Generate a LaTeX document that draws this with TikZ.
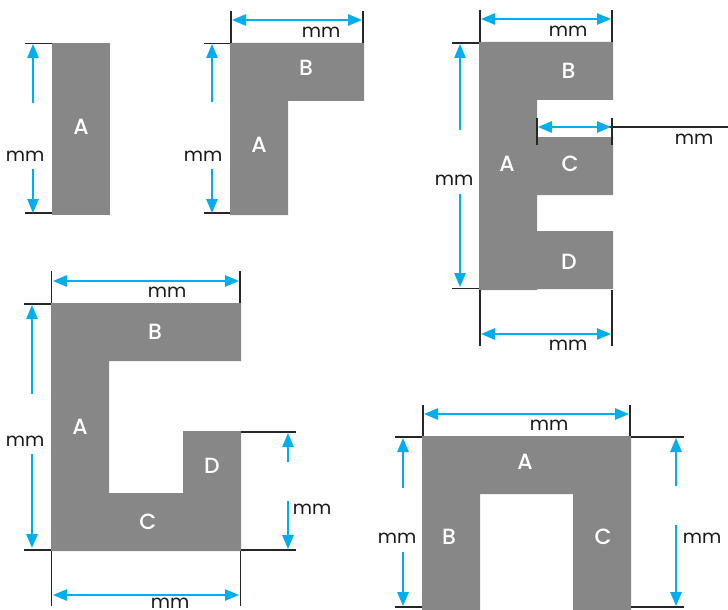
\documentclass[tikz,border=0pt]{standalone}
\usepackage{fontspec}
\setmainfont{Poppins}
\newfontfamily\namefont{Poppins}[UprightFont=* Medium]
\usetikzlibrary{arrows.meta}
\definecolor{partgray}{HTML}{878787}
\definecolor{dimblue}{HTML}{00AEEF}
\tikzset{
  part/.style={fill=partgray,draw=none},
  partname/.style={text=white,font=\namefont\fontsize{16.5pt}{17pt}\selectfont,inner sep=0pt},
  unit/.style={text=black!90,font=\fontsize{14pt}{15pt}\selectfont,inner sep=0pt},
  extline/.style={draw=black!85,line width=0.8pt},
  dimarrow/.style={draw=dimblue,line width=1.2pt,-{Triangle[length=10.5pt,width=8.5pt]}},
  dimboth/.style={draw=dimblue,line width=1.2pt,{Triangle[length=10.5pt,width=8.5pt]}-{Triangle[length=10.5pt,width=8.5pt]}}
}
\begin{document}
\begin{tikzpicture}[x=0.75pt,y=-0.75pt]
  \useasboundingbox (0,0) rectangle (728,610);
  % the five sections
  \fill[part] (52,43) rectangle (110,215);
  \fill[part] (230,43) -- (364,43) -- (364,101) -- (288,101) -- (288,215) -- (230,215) -- cycle;
  \fill[part] (479,42) -- (613,42) -- (613,100) -- (537,100) -- (537,137) -- (613,137) -- (613,195)
    -- (537,195) -- (537,231) -- (613,231) -- (613,289) -- (537,289) -- (537,290) -- (479,290) -- cycle;
  \fill[part] (51,303) -- (241,303) -- (241,361) -- (109,361) -- (109,493) -- (183,493) -- (183,431)
    -- (241,431) -- (241,551) -- (51,551) -- cycle;
  \fill[part] (422,436) -- (631,436) -- (631,610) -- (573,610) -- (573,494) -- (480,494) -- (480,610) -- (422,610) -- cycle;
  % extension lines
  \foreach \ename/\ax/\ay/\bx/\by in {
    ea/25/43.5/52/43.5, eb/25/213/52/213,
    ec/204/43.5/230/43.5, ed/204/213/230/213, ee/231/11/231/43, ef/363/11/363/43,
    eg/452/43/479/43, eh/452/288.5/479/288.5, ei/480/10/480/42, ej/612/10/612/42,
    ek/480/290/480/346, el/612/290/612/346, em/537/118/537/145, en/612/118/612/145, eo/603/127/728/127,
    ep/24/304/51/304, eq/24/550/51/550, er/51.5/271/51.5/303, es/240/271/240/303,
    et/241/432/296/432, eu/241/550/296/550, ev/51.5/551/51.5/606, ew/240.5/551/240.5/606,
    ex/395/437/422/437, ey/631/437/684/437, ez/395/607/422/607, fa/631/607/684/607,
    fb/423/405/423/436, fc/630/405/630/436} {
    \coordinate (\ename s) at (\ax,\ay);
    \coordinate (\ename t) at (\bx,\by);
    \draw[extline] (\ename s) -- (\ename t);
  }
  % single arrows, tail then tip
  \foreach \aname/\ax/\ay/\bx/\by in {
    aa/33/103/33/44, ab/33/169/33/213,
    ac/212/102/212/44, ad/212/169/212/213,
    ae/460/130/460/44, af/460/194/460/287,
    ag/32/394/32/305, ah/32/454/32/548,
    ai/288/462/288/433, aj/288/501/288/549,
    ak/403/488/403/438, al/403/552/403/606,
    am/676/486/676/438, an/676/525/676/606} {
    \coordinate (\aname s) at (\ax,\ay);
    \coordinate (\aname t) at (\bx,\by);
    \draw[dimarrow] (\aname s) -- (\aname t);
  }
  % width arrows
  \foreach \bname/\ax/\ay/\bx/\by in {
    ba/232/20/362/20, bb/481/19/611/19, bc/481/334/611/334, bd/538/127/611/127,
    be/53/281/239/281, bf/53/595/239/595, bg/424/414/629/414} {
    \coordinate (\bname s) at (\ax,\ay);
    \coordinate (\bname t) at (\bx,\by);
    \draw[dimboth] (\bname s) -- (\bname t);
  }
  % part names
  \begin{scope}[every node/.style={partname}]
    \node (secA) at (81,127) {A};
    \node (lA) at (259,145) {A};
    \node (lB) at (306,68) {B};
    \node (eA) at (507,164) {A};
    \node (eB) at (568.5,71) {B};
    \node (eC) at (570,164) {C};
    \node (eD) at (569,262) {D};
    \node (gA) at (80,427) {A};
    \node (gB) at (155,332) {B};
    \node (gC) at (148,522) {C};
    \node (gD) at (212,466) {D};
    \node (uA) at (525,462) {A};
    \node (uB) at (449,537) {B};
    \node (uC) at (603,537) {C};
  \end{scope}
  % units
  \begin{scope}[every node/.style={unit}]
    \node (mma) at (25,156) {mm};
    \node (mmb) at (203,156) {mm};
    \node (mmc) at (321,32) {mm};
    \node (mmd) at (568,31) {mm};
    \node (mme) at (454,180) {mm};
    \node (mmf) at (694,139) {mm};
    \node (mmg) at (568,345) {mm};
    \node (mmh) at (167,292) {mm};
    \node (mmi) at (25,441) {mm};
    \node (mmj) at (312,509) {mm};
    \node (mmk) at (170,603) {mm};
    \node (mml) at (549,425) {mm};
    \node (mmm) at (397,538) {mm};
    \node (mmn) at (702,538) {mm};
  \end{scope}
\end{tikzpicture}
\end{document}
